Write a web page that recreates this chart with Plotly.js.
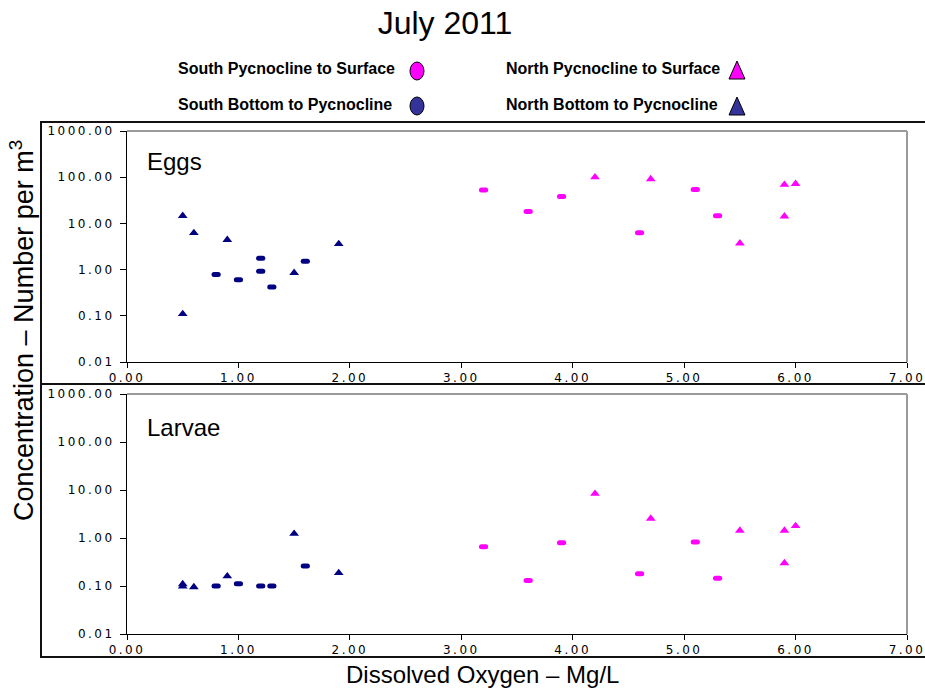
<!DOCTYPE html>
<html>
<head>
<meta charset="utf-8">
<script src="https://cdn.plot.ly/plotly-3.0.1.min.js"></script>
<style>
  html, body { margin: 0; padding: 0; background: #fff; }
  #chart { width: 925px; height: 689px; }
  /* rounded caps turn the short horizontal line markers into flat pills */
  .tracesbEggs path.point, .tracessEggs path.point,
  .tracesbLarvae path.point, .tracessLarvae path.point { stroke-linecap: round; }
  /* wide-set tick numerals */
  .xaxislayer-above text, .yaxislayer-above text { letter-spacing: 2.5px; }
</style>
</head>
<body>
<div id="chart"></div>
<script>
// Dissolved oxygen (mg/L) and concentration (number per m^3), July 2011

// Eggs
const eggsSouthBottomX = [0.8, 1.0, 1.2, 1.2, 1.3, 1.6];
const eggsSouthBottomY = [0.78, 0.60, 1.76, 0.92, 0.42, 1.51];
const eggsNorthBottomX = [0.5, 0.5, 0.6, 0.9, 1.5, 1.9];
const eggsNorthBottomY = [14.6, 0.11, 6.2, 4.4, 0.85, 3.6];
const eggsSouthSurfaceX = [3.2, 3.6, 3.9, 4.6, 5.1, 5.3];
const eggsSouthSurfaceY = [53, 18, 38, 6.3, 54, 14.7];
const eggsNorthSurfaceX = [4.2, 4.7, 5.5, 5.9, 6.0, 5.9];
const eggsNorthSurfaceY = [100, 91, 3.7, 69, 72, 14.2];

// Larvae
const larvaeSouthBottomX = [0.8, 1.0, 1.2, 1.3, 1.6];
const larvaeSouthBottomY = [0.10, 0.112, 0.10, 0.10, 0.26];
const larvaeNorthBottomX = [0.5, 0.5, 0.6, 0.9, 1.5, 1.9];
const larvaeNorthBottomY = [0.11, 0.098, 0.095, 0.16, 1.23, 0.187];
const larvaeSouthSurfaceX = [3.2, 3.6, 3.9, 4.6, 5.1, 5.3];
const larvaeSouthSurfaceY = [0.66, 0.13, 0.80, 0.18, 0.83, 0.145];
const larvaeNorthSurfaceX = [4.2, 4.7, 5.5, 5.9, 6.0, 5.9];
const larvaeNorthSurfaceY = [8.4, 2.54, 1.43, 1.43, 1.78, 0.30];

// Axis ticks
const xTickVals = [0, 1, 2, 3, 4, 5, 6, 7];
const xTickText = ['0.00', '1.00', '2.00', '3.00', '4.00', '5.00', '6.00', '7.00'];
const yTickVals = [0.01, 0.1, 1, 10, 100, 1000];
const yTickText = ['0.01', '0.10', '1.00', '10.00', '100.00', '1000.00'];

// Legend entries
const seriesNames = [
  'South Pycnocline to Surface',
  'South Bottom to Pycnocline',
  'North Pycnocline to Surface',
  'North Bottom to Pycnocline'
];

const NAVY = '#000080';
const PINK = '#FF00FF';
const W = 925, H = 689;
const px = v => v / W;          // pixel -> paper x
const py = v => 1 - v / H;      // pixel -> paper y

function pill(x, y, color, xa, ya, uid) {
  return {
    type: 'scatter', mode: 'markers', x, y, xaxis: xa, yaxis: ya, uid,
    showlegend: false, hoverinfo: 'x+y',
    marker: { symbol: 'line-ew-open', size: 3, color, line: { color, width: 5 } }
  };
}
function tri(x, y, color, xa, ya) {
  return {
    type: 'scatter', mode: 'markers', x, y, xaxis: xa, yaxis: ya,
    showlegend: false, hoverinfo: 'x+y',
    marker: { symbol: 'triangle-up', size: 8.5, color, line: { width: 0 } }
  };
}

const data = [
  pill(eggsSouthBottomX, eggsSouthBottomY, NAVY, 'x', 'y', 'sbEggs'),
  tri(eggsNorthBottomX, eggsNorthBottomY, NAVY, 'x', 'y'),
  pill(eggsSouthSurfaceX, eggsSouthSurfaceY, PINK, 'x', 'y', 'ssEggs'),
  tri(eggsNorthSurfaceX, eggsNorthSurfaceY, PINK, 'x', 'y'),
  pill(larvaeSouthBottomX, larvaeSouthBottomY, NAVY, 'x2', 'y2', 'sbLarvae'),
  tri(larvaeNorthBottomX, larvaeNorthBottomY, NAVY, 'x2', 'y2'),
  pill(larvaeSouthSurfaceX, larvaeSouthSurfaceY, PINK, 'x2', 'y2', 'ssLarvae'),
  tri(larvaeNorthSurfaceX, larvaeNorthSurfaceY, PINK, 'x2', 'y2')
];

const tickFont = { family: 'DejaVu Sans', size: 12, color: '#000' };
const xDomain = [px(127), px(907)];

function xAxis(anchor) {
  return {
    domain: xDomain, anchor, range: [0, 7], tickmode: 'array',
    tickvals: xTickVals, ticktext: xTickText, tickfont: tickFont,
    showgrid: false, zeroline: false, showline: true, linecolor: '#000', linewidth: 1,
    ticks: 'outside', ticklen: 5, tickcolor: '#000', tickwidth: 1
  };
}
function yAxis(anchor, top, bottom) {
  return {
    domain: [py(bottom), py(top)], anchor, type: 'log', range: [-2, 3],
    tickmode: 'array', tickvals: yTickVals, ticktext: yTickText, tickfont: tickFont,
    showgrid: false, zeroline: false, showline: true, linecolor: '#000', linewidth: 1,
    ticks: 'outside', ticklen: 6, tickcolor: '#000', tickwidth: 1, ticklabelstandoff: 3
  };
}

const boxLine = (x0, y0, x1, y1) => ({
  type: 'line', xref: 'paper', yref: 'paper',
  x0: px(x0), y0: py(y0), x1: px(x1), y1: py(y1),
  line: { color: '#111', width: 2 }
});
const frameLine = (xr, yr, x0, y0, x1, y1) => ({
  type: 'line', xref: xr + ' domain', yref: yr + ' domain', x0, y0, x1, y1,
  line: { color: '#9a9a9a', width: 2 }
});

// legend symbols (drawn after the label text)
const legendEllipse = (cx, cy, color) => ({
  type: 'circle', xref: 'paper', yref: 'paper',
  x0: px(cx - 7), x1: px(cx + 7), y0: py(cy - 9), y1: py(cy + 9),
  fillcolor: color, line: { color: '#000', width: 1 }
});
const legendTriangle = (cx, cy, color) => ({
  type: 'path', xref: 'paper', yref: 'paper',
  path: `M ${px(cx - 8)} ${py(cy + 9)} L ${px(cx + 8)} ${py(cy + 9)} L ${px(cx)} ${py(cy - 9)} Z`,
  fillcolor: color, line: { color: '#000', width: 1 }
});

const shapes = [
  boxLine(41, 122, 925, 122),
  boxLine(41, 384, 925, 384),
  boxLine(41, 657, 925, 657),
  boxLine(41, 121, 41, 658),
  frameLine('x', 'y', 0, 1, 1, 1),
  frameLine('x', 'y', 1, 0, 1, 1),
  frameLine('x2', 'y2', 0, 1, 1, 1),
  frameLine('x2', 'y2', 1, 0, 1, 1),
  legendEllipse(417, 71, PINK),
  legendEllipse(417, 106, '#333399'),
  legendTriangle(737, 70, PINK),
  legendTriangle(737, 106, '#333399')
];

const legendFont = { family: 'Liberation Sans, Arial', size: 16, color: '#000', weight: 'bold' };
const legendText = (text, x, y) => ({
  text, xref: 'paper', yref: 'paper', x: px(x), y: py(y),
  xanchor: 'left', yanchor: 'middle', showarrow: false, font: legendFont
});
const labelFont = { family: 'Liberation Sans, Arial', size: 24, color: '#000' };

const annotations = [
  legendText('<b>' + seriesNames[0] + '</b>', 176, 69),
  legendText('<b>' + seriesNames[1] + '</b>', 176, 105),
  legendText('<b>' + seriesNames[2] + '</b>', 504, 69),
  legendText('<b>' + seriesNames[3] + '</b>', 504, 105),
  { text: 'Eggs', xref: 'paper', yref: 'paper', x: px(145), y: py(162), xanchor: 'left',
    yanchor: 'middle', showarrow: false, font: labelFont },
  { text: 'Larvae', xref: 'paper', yref: 'paper', x: px(145), y: py(427), xanchor: 'left',
    yanchor: 'middle', showarrow: false, font: labelFont },
  { text: 'Concentration – Number per m<sup>3</sup>', xref: 'paper', yref: 'paper',
    x: px(22), y: py(331), textangle: -90, xanchor: 'center', yanchor: 'middle', showarrow: false,
    font: { family: 'Liberation Sans, Arial', size: 27, color: '#000' } },
  { text: 'Dissolved Oxygen – Mg/L', xref: 'paper', yref: 'paper',
    x: px(482), y: py(674), xanchor: 'center', yanchor: 'middle', showarrow: false,
    font: labelFont }
];

const layout = {
  width: W, height: H,
  margin: { l: 0, r: 0, t: 0, b: 0, pad: 0 },
  paper_bgcolor: '#fff', plot_bgcolor: '#fff',
  showlegend: false,
  title: { text: 'July 2011', x: px(445), xanchor: 'center', y: py(23), yanchor: 'middle',
           font: { family: 'Liberation Sans, Arial', size: 32, color: '#000' } },
  xaxis: xAxis('y'),
  yaxis: yAxis('x', 131, 362),
  xaxis2: xAxis('y2'),
  yaxis2: yAxis('x2', 394, 634),
  shapes, annotations
};

Plotly.newPlot('chart', data, layout, { displayModeBar: false, staticPlot: true });
</script>
</body>
</html>
